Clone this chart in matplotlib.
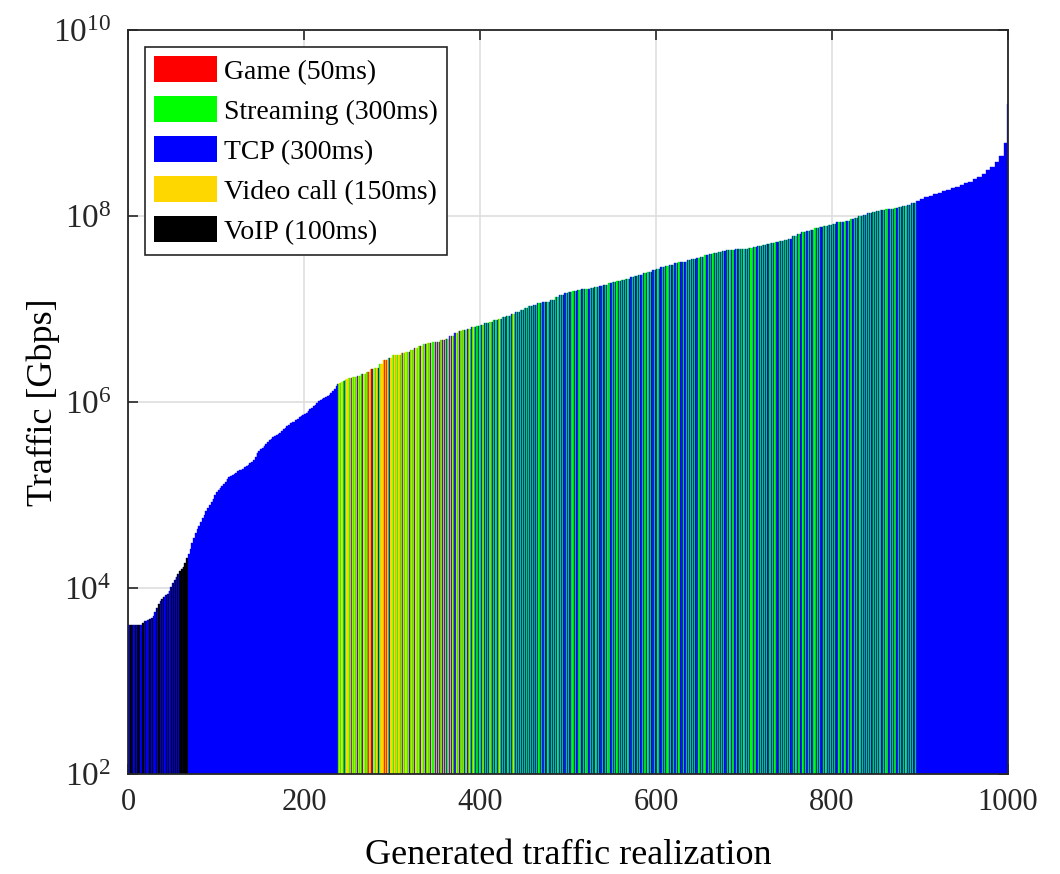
import matplotlib
matplotlib.use("Agg")
import matplotlib.pyplot as plt
from matplotlib.patches import Patch
from matplotlib.ticker import NullLocator, FuncFormatter
import numpy as np

plt.rcParams['font.family'] = ['Liberation Serif', 'DejaVu Serif']
plt.rcParams['mathtext.fontset'] = 'custom'
plt.rcParams['mathtext.rm'] = 'Liberation Serif'
plt.rcParams['mathtext.it'] = 'Liberation Serif:italic'

# Data
# traffic classes (legend order) and the letter used for them below
classes = ['Game (50ms)', 'Streaming (300ms)', 'TCP (300ms)',
           'Video call (150ms)', 'VoIP (100ms)']
class_keys = ['G', 'S', 'T', 'V', 'K']
class_colors = ['#ff0000', '#00ff00', '#0000ff', '#ffd700', '#000000']

# traffic class of each of the 1000 realizations (sorted by traffic)
realization_class = [
    "KTKKTKTTKT KKTKTTKKTK TKTTKKTKTK TTKTKKTTKT KTTKTKKTTK",
    "TKTKKTKTKK KKTKKKKKTT TTTTTTTTTT TTTTTTTTTT TTTTTTTTTT",
    "TTTTTTTTTT TTTTTTTTTT TTTTTTTTTT TTTTTTTTTT TTTTTTTTTT",
    "TTTTTTTTTT TTTTTTTTTT TTTTTTTTTT TTTTTTTTTT TTTTTTTTTT",
    "TTTTTTTTTT TTTTTTTTTT TTTTTTTTTT TTTTTTTTTS VSVVSTVSVV",
    "VSVTVVSVSV TVVSVSTVVS VGSGVVGTVS VSVVTSVSVV VGVGVSVTVV",
    "VSVVTVSVVS VTVVSVVSVT SVVSVTVVSV VSTVVSVVTS VSVTVSVSVT",
    "VTVTVSVTVT VTVSVTVTVS TVTVSVTSVT SVTSVTSTVS TSVSTSTSTS",
    "STSVSTSTST SVTSTSTSST STVSTSTSTS TSSTSTSTVS TSTSTSSTST",
    "STSTSSTSTS TSTTSTSSTS TSTSTTSSTS TSTSTSTTSS TSTSTTSTST",
    "STTSTSSTST TSTSSTTSTS STSTTSTSTS TSSTSTTSTS TTSTSSTSTT",
    "STSTTSSTST STTSTSTSST TSTSTSTTSS TSTTSTSTST SSTSTTSTST",
    "TSSTSTTSTS TSTSSTSTTS TSTSTSSTTS TSTTSTSSTS TSTSTTSTSS",
    "TSTSTSSTTS TSTTSSTSTS TSSTSTSTTS TSTSSTSTST TSTTSTSSTS",
    "STSTTSTSSS TSTSTTSTST SSTSTSTTST STSTSSTSTT STSTSTSSTS",
    "TSTTSTSTSS TSTSTTSSTS TSTSTSTTST SSTSTSTSTT STSSTSTTST",
    "STSTSTTSST STSTSSTTST STSTTSTSTS TSSTSTSTTS TSTSTTSSTS",
    "TSTSTSTTST SSTSTTSTST STSTTSTSTS TSTSSTSTTS TSTTSTSTTT",
    "TTTTTTTTTT TTTTTTTTTT TTTTTTTTTT TTTTTTTTTT TTTTTTTTTT",
    "TTTTTTTTTT TTTTTTTTTT TTTTTTTTTT TTTTTTTTTT TTTTTTTTTT",
]

# traffic read off the envelope, log10(Gbps) x 100
# realizations 0-249 (steep part): one value per 2 realizations
traffic_head_log100 = [
    360, 360, 360, 360, 360, 360, 360, 360, 362, 364,
    365, 366, 367, 368, 370, 374, 379, 383, 386, 388,
    390, 392, 394, 397, 401, 405, 409, 412, 415, 418,
    420, 423, 427, 432, 437, 442, 448, 454, 459, 463,
    467, 471, 475, 479, 483, 486, 489, 493, 496, 500,
    503, 505, 508, 510, 512, 514, 517, 519, 520, 521,
    523, 524, 526, 527, 527, 528, 530, 531, 532, 534,
    535, 538, 541, 545, 547, 549, 551, 553, 555, 557,
    559, 560, 562, 563, 565, 566, 567, 569, 571, 572,
    574, 575, 577, 578, 579, 581, 582, 584, 585, 586,
    587, 588, 590, 592, 594, 596, 597, 599, 601, 602,
    603, 604, 605, 606, 608, 610, 612, 614, 617, 619,
    620, 621, 623, 624, 625,
]
# realizations 250-999: one value per 5 realizations
traffic_tail_log100 = [
    626, 627, 628, 630, 632, 635, 637, 641, 645, 647,
    650, 651, 653, 654, 656, 658, 660, 662, 663, 664,
    665, 667, 668, 671, 674, 676, 677, 679, 681, 682,
    683, 685, 686, 688, 689, 691, 693, 695, 697, 699,
    701, 703, 704, 706, 707, 708, 710, 713, 715, 717,
    718, 719, 720, 721, 722, 723, 724, 725, 726, 728,
    729, 730, 731, 732, 734, 735, 737, 739, 740, 742,
    743, 745, 746, 747, 749, 750, 751, 753, 754, 755,
    756, 758, 759, 760, 761, 762, 763, 763, 764, 765,
    765, 766, 767, 768, 769, 770, 771, 772, 773, 774,
    775, 778, 781, 783, 784, 785, 787, 788, 789, 790,
    791, 793, 794, 795, 797, 798, 800, 801, 803, 804,
    805, 806, 807, 808, 809, 810, 811, 812, 814, 816,
    818, 820, 822, 824, 825, 827, 828, 830, 831, 833,
    835, 837, 840, 842, 845, 849, 853, 858, 865, 878,
]
last_peak_log100 = 920  # the very last realization

n_real = 1000
keys = "".join(realization_class).replace(" ", "")
keys = (keys + "T" * n_real)[:n_real]
log100 = np.concatenate([np.repeat(traffic_head_log100, 2),
                         np.repeat(traffic_tail_log100, 5)])[:n_real]
traffic = 10 ** (log100 / 100.0)
traffic[-1] = 10 ** (last_peak_log100 / 100.0)
color_of = dict(zip(class_keys, class_colors))
bar_cols = [color_of[k] for k in keys]

fig = plt.figure(figsize=(10.6, 8.74), dpi=100)
ax = fig.add_axes([0.1208, 0.1144, 0.8302, 0.8513])

x = np.arange(n_real)
ax.bar(x, traffic, width=1.0, align='edge', bottom=1.0, color=bar_cols,
       edgecolor=bar_cols, linewidth=0.25, zorder=2)

ax.set_yscale('log')
ax.set_xlim(0, 1000)
ax.set_ylim(1e2, 1e10)
ax.set_yticks([1e2, 1e4, 1e6, 1e8, 1e10])
ax.yaxis.set_minor_locator(NullLocator())
ax.yaxis.set_major_formatter(
    FuncFormatter(lambda v, pos: r'$10^{%d}$' % round(np.log10(v))))
ax.set_xticks([0, 200, 400, 600, 800, 1000])

ax.grid(True, color='#dedede', linewidth=1.2, zorder=0)
ax.set_axisbelow(True)
ax.tick_params(direction='in', top=True, right=True, length=7, width=1.2,
               labelsize=22, colors='#262626')
ax.tick_params(axis='x', pad=10)
ax.tick_params(axis='y', pad=12, labelsize=24)
for s in ax.spines.values():
    s.set_color('#262626')
    s.set_linewidth(1.3)
    s.set_zorder(5)

ax.set_xlabel('Generated traffic realization', fontsize=26, labelpad=16)
ax.set_ylabel('Traffic [Gbps]', fontsize=26)
ax.yaxis.set_label_coords(-0.077, 0.5)

handles = [Patch(facecolor=c, edgecolor='none') for c in class_colors]
leg = ax.legend(handles, classes, loc='upper left', bbox_to_anchor=(0.0, 1.0),
                fontsize=20, frameon=True, fancybox=False, framealpha=1,
                handlelength=2.25, handleheight=1.05, handletextpad=0.25,
                labelspacing=0.42, borderpad=0.35, borderaxespad=0.6)
leg.get_frame().set_edgecolor('#262626')
leg.get_frame().set_linewidth(1.2)

plt.savefig('out.png', dpi=100)
